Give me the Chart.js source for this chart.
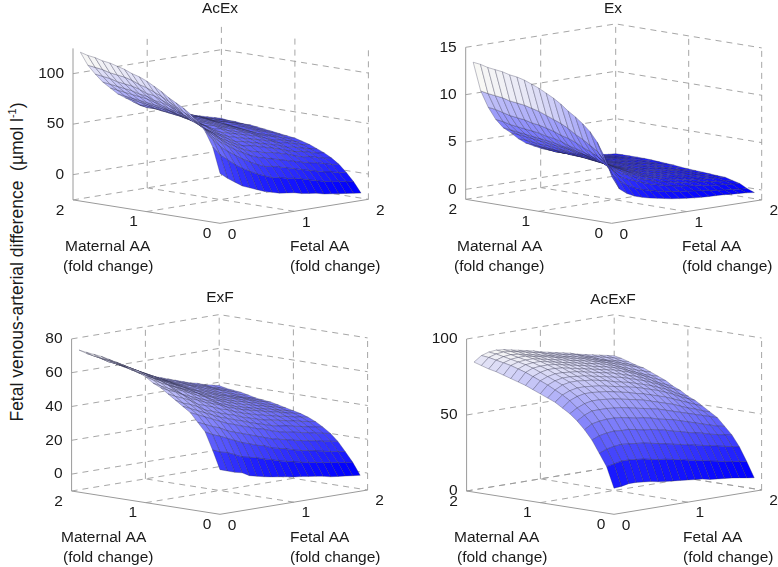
<!DOCTYPE html>
<html><head><meta charset="utf-8">
<style>
html,body{margin:0;padding:0;background:#fff;overflow:hidden}
body{width:778px;height:567px;position:relative;font-family:"Liberation Sans",Arial,sans-serif}
canvas{position:absolute}
#yl{position:absolute;left:17px;top:262px;transform:translate(-50%,-50%) rotate(-90deg);white-space:pre;font-size:17.5px;color:#1a1a1a}
#yl sup{font-size:11px;line-height:0}
</style>
<script src="https://cdn.jsdelivr.net/npm/chart.js@4/dist/chart.umd.min.js"></script>
</head><body>
<div id="yl">Fetal venous-arterial difference  (µmol l<sup>-1</sup>)</div>
<canvas id="c0"></canvas><canvas id="c1"></canvas><canvas id="c2"></canvas><canvas id="c3"></canvas>
<script>
const foldLevels=[0.1,0.2,0.3,0.4,0.5,0.6,0.7,0.8,0.9,1,1.1,1.2,1.3,1.4,1.5,1.6,1.7,1.8,1.9,2];
const axisTicks=[0,1,2];
const panelNames=["AcEx","Ex","ExF","AcExF"];
const zTicksAcEx=[0,50,100], zTicksEx=[0,5,10,15], zTicksExF=[0,20,40,60,80], zTicksAcExF=[0,50,100];
// rows: fetal AA, columns: maternal AA
const acExZ=[
[22,47,61,70,76,81,85,89,94,98,102,105,107,110,112,114,115,117,118,120],
[16,38,52,60,66,71,75,79,83,87,90,93,95,98,100,101,102,104,105,106],
[11,32,44,52,58,63,67,70,75,78,81,84,85,88,90,91,92,94,95,96],
[6,26,38,46,52,56,60,63,67,71,74,76,77,80,81,83,84,85,86,87],
[3,21,33,41,46,51,54,58,62,65,67,69,71,73,75,76,77,78,79,80],
[0,17,28,36,41,45,49,52,56,59,61,63,65,67,68,69,70,71,72,73],
[-3,13,24,32,37,41,45,48,52,54,57,58,60,62,63,64,65,66,67,68],
[-5,10,20,28,33,37,41,44,47,50,52,54,55,57,58,59,60,61,61,63],
[-7,7,17,25,30,34,37,41,44,46,48,50,51,53,54,55,56,57,57,58],
[-8,6,16,23,28,33,36,39,42,45,47,48,49,51,52,54,54,55,55,57],
[-9,4,14,21,26,31,34,37,40,42,44,46,47,48,50,51,51,52,53,54],
[-11,3,12,19,25,29,32,35,38,40,42,43,45,46,47,48,49,50,50,51],
[-12,1,10,17,23,27,30,33,36,38,40,41,42,44,45,46,46,47,48,49],
[-13,-1,8,15,21,25,28,31,34,36,37,39,40,41,42,43,44,45,45,46],
[-15,-3,6,13,18,22,26,29,31,33,35,36,37,38,39,40,41,42,42,43],
[-16,-5,4,11,16,20,23,26,28,31,32,33,34,35,36,38,38,39,39,40],
[-17,-6,2,10,15,19,22,25,27,29,30,32,33,34,35,36,36,37,37,38],
[-18,-7,1,8,13,17,20,23,25,27,28,30,31,32,33,34,34,35,35,36],
[-19,-9,-1,6,11,15,18,21,23,25,27,28,29,30,31,32,32,33,33,34],
[-20,-10,-2,5,10,14,17,20,22,24,25,26,27,28,29,30,30,31,31,32]];
const exZ=[
[3.6,5.6,7,8,8.7,9.3,9.8,10.4,10.9,11.3,11.7,12,12.3,12.5,12.6,12.8,12.9,13,13.2,13.3],
[2.2,3.6,4.9,5.8,6.3,6.8,7.2,7.7,8.1,8.4,8.7,9,9.2,9.4,9.5,9.6,9.8,9.9,10,10.15],
[1.6,2.8,3.8,4.5,5,5.4,5.7,6.1,6.4,6.6,6.9,7.1,7.3,7.4,7.6,7.7,7.8,8,8.2,8.3],
[1.2,2.2,3,3.6,4,4.4,4.7,5,5.2,5.4,5.7,5.9,6,6.2,6.3,6.4,6.5,6.6,6.8,6.9],
[.95,1.8,2.6,3.1,3.5,3.8,4,4.3,4.5,4.7,4.9,5,5.2,5.3,5.4,5.5,5.6,5.7,5.8,5.9],
[.75,1.5,2.3,2.8,3.1,3.4,3.6,3.8,4,4.2,4.3,4.5,4.6,4.7,4.8,4.9,5,5.1,5.2,5.25],
[.6,1.3,2,2.4,2.7,3,3.1,3.3,3.5,3.6,3.8,3.9,4,4.1,4.2,4.3,4.3,4.4,4.5,4.5],
[.45,1.1,1.7,2.1,2.4,2.6,2.8,2.9,3.1,3.2,3.3,3.4,3.5,3.6,3.7,3.7,3.8,3.8,3.9,3.9],
[.3,.95,1.5,1.9,2.1,2.3,2.4,2.6,2.7,2.8,2.9,3,3.1,3.2,3.2,3.3,3.4,3.4,3.5,3.5],
[.2,.8,1.3,1.6,1.9,2,2.2,2.3,2.4,2.5,2.6,2.7,2.8,2.9,2.9,3,3,3,3.1,3.1],
[.1,.7,1.15,1.45,1.7,1.8,1.9,2.05,2.15,2.25,2.35,2.45,2.55,2.6,2.65,2.7,2.75,2.75,2.8,2.8],
[.03,.6,1,1.3,1.5,1.65,1.75,1.85,1.95,2.05,2.15,2.25,2.3,2.35,2.4,2.45,2.5,2.5,2.5,2.5],
[-.03,.5,.9,1.15,1.35,1.5,1.6,1.7,1.8,1.85,1.95,2.05,2.1,2.15,2.2,2.2,2.25,2.25,2.25,2.25],
[-.07,.4,.8,1.05,1.25,1.35,1.45,1.55,1.65,1.7,1.8,1.85,1.9,1.95,2,2.05,2.05,2.05,2.05,2.05],
[-.1,.3,.7,.95,1.1,1.25,1.35,1.4,1.5,1.55,1.65,1.7,1.75,1.8,1.85,1.9,1.9,1.9,1.9,1.9],
[-.13,.2,.6,.85,1,1.1,1.2,1.3,1.35,1.45,1.5,1.55,1.6,1.65,1.7,1.75,1.75,1.75,1.75,1.75],
[-.2,.1,.5,.75,.9,1,1.1,1.15,1.25,1.3,1.35,1.45,1.5,1.5,1.55,1.6,1.6,1.6,1.6,1.6],
[-.25,.05,.45,.65,.85,.9,.95,1.05,1.1,1.15,1.2,1.3,1.35,1.4,1.4,1.45,1.45,1.45,1.45,1.45],
[-.3,-.05,.35,.55,.75,.8,.85,.9,1,1,1.1,1.2,1.2,1.25,1.3,1.35,1.35,1.35,1.35,1.35],
[-.4,-.1,.3,.5,.7,.75,.8,.85,.9,.95,1,1.1,1.15,1.2,1.25,1.3,1.3,1.3,1.3,1.3]];
const exFZ=[
[15,26,36,41,46,49,52,55,58,60,63,65,66,68,69,70,71,71.5,72,72.7],
[13.5,24,33.6,39,44,47,49.5,52.8,55.7,57.6,60.4,62.4,63.4,65.2,66.2,67.2,68.2,68.7,69.2,70],
[12,23,32,37,42,45,48,51,54,55.5,58,60,61,63,64,65,66,66.5,67,68],
[11,21,30,35.5,40,43,46,49,51.6,53.4,56,57.7,58.7,60.4,61.3,62.3,63.3,63.8,64.3,65.5],
[8.6,19,28,33,38,41,43.3,46,48.7,50.4,52.8,54.4,56,57.8,58.8,60,61,61.8,62.5,63.4],
[7.5,18,26,31.5,36,39,41.8,44.5,47,48.6,51,52.5,53.5,55,56,57,58,59,60,61],
[6.5,17,24.6,30,34.6,37.6,40,43,45,46.8,49,50.5,51.5,53,54,55,56,57,58,59],
[5.7,15.5,23,28.5,33,36,38.6,41,43.5,45,47,48.5,49.5,51,52,53,54,55,56,57],
[5,14.5,22,27,31.7,34.7,37.3,39.9,42,43.5,45.4,46.9,47.9,49,50,51,52,53,53.8,54.5],
[4.3,13,20,25.5,30,33,35.5,38,40,41.4,43,44.5,45.5,47,47.8,48.8,49.8,50.5,51.2,52],
[3.5,12,19,24,29,31.6,34.2,36.5,38.6,40,41.6,43,44,45.2,46,47,47.8,48.6,49.3,50],
[3,11,18,23,27.3,30.3,32.9,35.2,37.1,38.4,40,41.2,42.2,43.4,44.3,45.3,46.2,47,47.8,48.5],
[2.3,10,16.6,22,26,29,31.6,34,36,37.2,38.7,39.9,40.9,42,43,44,45,45.7,46.4,47],
[1.7,9.2,15.6,21,25,28,30.8,33,35,36,37.4,38.6,39.6,40.5,41.4,42.4,43.4,44,44.8,45.5],
[1,8.5,14.8,20,24.4,27.4,30,32,33.9,35,36.4,37.6,38.6,39.4,40,41,42,42.7,43.4,44],
[0,7.7,13.9,19.2,23.4,26.4,29,30.9,32.8,33.9,35.2,36.3,37.3,38,38.6,39.6,40.6,41.5,42,42.5],
[-.5,7,13,18.5,22.6,25.6,28.2,30.2,32,33,34.2,35.3,36.3,37,37.5,38.5,39.5,40,40.8,41.5],
[-1,6.3,12.1,17.5,21.6,24.6,27.2,29.2,30.8,31.8,33,34,35,35.6,36.1,37.1,38.1,38.6,39.1,40],
[-1.5,5.6,11.4,16.8,20.8,23.8,26.4,28.3,29.9,30.9,32,33,34,34.6,35,36,37,37.5,38,39],
[-2,5,10.6,16,20,23,25.6,27.5,29,30,31,32,33,33.5,34,35,36,36.5,37,38]];
const acExFZ=[
[15.6,29,37,45,51,56,60,63,66,68,70,72,74,75.5,77,78.5,80,81,82.5,84],
[16,30,39,47,54,59,63,67,70,72.5,75,77,79,81,82.5,84,85,86,87,87.5],
[17,31,40,48,55,61,65,69,72,75,77,79,81,83,84.5,85.5,86.5,87.5,88.5,89],
[17,31,40.5,48.5,55.5,61,66,70,73,76,78,80,82,83.5,85,86,87,88,89,89.5],
[16.5,30.5,40,48,55.5,61,66,70,73,76,78,80,82,83.5,85,86,87,87.5,88.5,89],
[16,30,39.5,48,55,60.5,65.5,69.5,72.5,75.5,77.5,79.5,81.5,83,84,85,86,86.5,87.5,88],
[15,29,39,47,54,60,65,69,72,75,77,79,80.5,82,83,84,85,85.5,86.5,87],
[14.5,28,38,46,53,59,64,68,71,74,76,78,79.5,81,82,83,84,84.5,85.5,86],
[14,27.5,37,45.5,52.5,58,63,67,70,73,75,77,78.5,80,81,82,83,83.5,84.5,85],
[13.5,26.5,36,44.5,51.5,57,62,66,69,71.5,74,76,77.5,79,80,81,81.8,82.3,83,83.6],
[13,25.5,35,43.5,50,56,61,64.5,68,70.5,73,75,76.5,77.8,79,80,80.8,81.3,82,82.5],
[12.5,24.5,34,42,49,55,59.5,63.5,67,69.5,72,74,75.5,76.8,78,79,79.8,80.3,81,81.5],
[12,23.5,33,41,48,53.5,58,62,65.5,68,70.5,72.5,74.5,75.8,77,78,78.8,79.3,80,80.5],
[11,22.5,32,39.5,46.5,52,56.5,60.5,64,66.5,69,71,73,74.5,75.8,76.8,77.6,78.2,79,79.5],
[10.5,21.5,31,38.5,45,50.5,55,59,62.5,65,67.5,69.5,71.5,73,74.3,75.5,76.2,77,77.5,78],
[10,20.5,30,37.5,43.5,49,53,57,60.5,63,65.5,67.5,69.5,71,72.5,74,75,75.5,76.3,77],
[9.5,19.5,29,36,42,47.5,51,55,58.5,61,63.5,65.5,67.5,69,70.8,72.5,73.5,74,75.3,76],
[8.8,18.5,28,35,40.5,46,49.5,53,56,58.5,61,63,65.5,67,69,71,72,73,74.2,75],
[8,18,27,34,39,44.5,47.5,51,54,56,59,61,63.5,65.5,67.5,69.5,70.5,71.8,73,74],
[7.3,17,26,33,38,43,46,49,52,54,57,59,62,64,66,68,69,70.5,72,73]];

// layout and 3D view of each panel (page pixels)
const panels=[
 {z:acExZ,zt:zTicksAcEx,left:0,top:0,w:440,h:283,padL:0,titleP:0,o:[220,223.3],fv:[74.2,-12],mv:[-73.5,-11.7],zb:-25,zTop:125,k:1.01,
  lab:[[65,247,"Maternal AA"],[63,267,"(fold change)"],[290,247,"Fetal AA"],[290,267,"(fold change)"]]},
 {z:exZ,zt:zTicksEx,left:430,top:0,w:348,h:283,padL:18,titleP:0,o:[611.7,223.3],fv:[75,-11.7],mv:[-73,-12],zb:-1.05,zTop:15,k:9.47,
  lab:[[457,247,"Maternal AA"],[454,267,"(fold change)"],[682,247,"Fetal AA"],[682,267,"(fold change)"]]},
 {z:exFZ,zt:zTicksExF,left:0,top:283,w:440,h:284,padL:0,titleP:6,o:[220,514.3],fv:[73.8,-12.15],mv:[-74.2,-11.65],zb:-10,zTop:80,k:1.69,
  lab:[[61,538,"Maternal AA"],[63,558,"(fold change)"],[290,538,"Fetal AA"],[290,558,"(fold change)"]]},
 {z:acExFZ,zt:zTicksAcExF,left:430,top:283,w:348,h:284,padL:18,titleP:8,o:[614,514.3],fv:[73.8,-12.15],mv:[-73.7,-11.65],zb:0,zTop:100,k:1.52,
  lab:[[454,538,"Maternal AA"],[457,558,"(fold change)"],[683,538,"Fetal AA"],[683,558,"(fold change)"]]}
];
const FONT=15.5, TITLE_LH=18;
const textPlugin={id:'texts3d',afterDraw(chart){
  const p=chart.options.plugins.texts3d.panel, ctx=chart.ctx, sx=chart.scales.x, sy=chart.scales.y;
  const put=(x,y,t,al)=>{ctx.textAlign=al;ctx.fillText(t,sx.getPixelForValue(x),sy.getPixelForValue(y));};
  ctx.save();ctx.font=FONT+'px "Liberation Sans", Arial, sans-serif';ctx.fillStyle='#1a1a1a';ctx.textBaseline='middle';
  const P=project(p);
  p.zt.forEach(z=>{const q=P(0,2,z);put(q.x-9,q.y,String(z),'right');});
  axisTicks.forEach(v=>{let q=P(0,v,p.zb);put(q.x-13,q.y+10.5,String(v),'center');q=P(v,0,p.zb);put(q.x+12,q.y+11,String(v),'center');});
  p.lab.forEach(l=>put(l[0]-p.left,l[1]-p.top,l[2],'left'));
  ctx.restore();
}};
function project(p){return (f,m,z)=>({x:p.o[0]+f*p.fv[0]+m*p.mv[0]-p.left,y:p.o[1]+f*p.fv[1]+m*p.mv[1]-(z-p.zb)*p.k-p.top});}
function line(pts,color,width,dash){return {data:pts,showLine:true,fill:false,pointRadius:0,borderColor:color,borderWidth:width,borderDash:dash||[],tension:0};}
panels.forEach((p,n)=>{
  const P=project(p), cv=document.getElementById('c'+n);
  cv.width=p.w;cv.height=p.h;cv.style.left=p.left+'px';cv.style.top=p.top+'px';
  const all=p.z.flat(), zmin=Math.min(...all), zmax=Math.max(...all), ds=[], N=foldLevels.length;
  // front cells first: Chart.js paints the first dataset last
  for(let s=0;s<=2*(N-2);s++)for(let i=0;i<N-1;i++){const j=s-i;if(j<0||j>N-2)continue;
    const t=(p.z[i][j]-zmin)/(zmax-zmin), c=Math.round(250*t);
    const pts=[[i,j],[i+1,j],[i+1,j+1],[i,j+1],[i,j]].map(a=>P(foldLevels[a[0]],foldLevels[a[1]],p.z[a[0]][a[1]]));
    ds.push({data:pts,showLine:true,fill:'shape',pointRadius:0,tension:0,backgroundColor:`rgb(${c},${c},${Math.max(245,255-Math.round(10*t))})`,borderColor:'rgba(40,40,70,0.5)',borderWidth:0.6});
  }
  const solid='#9a9a9a', dash='#9c9c9c', D=[6,5];
  ds.push(line([P(0,2,p.zb),P(0,0,p.zb),P(2,0,p.zb)],solid,1));
  ds.push(line([P(0,2,p.zb),P(0,2,p.zTop)],solid,1));
  p.zt.forEach(z=>ds.push(line([P(0,2,z),P(2,2,z),P(2,0,z)],dash,0.9,D)));
  [[1,2],[2,2],[2,1],[2,0]].forEach(a=>ds.push(line([P(a[0],a[1],p.zb),P(a[0],a[1],p.zTop)],dash,0.9,D)));
  ds.push(line([P(0,2,p.zb),P(2,2,p.zb),P(2,0,p.zb)],dash,0.9,D));
  ds.push(line([P(1,0,p.zb),P(1,2,p.zb)],dash,0.9,D));
  ds.push(line([P(0,1,p.zb),P(2,1,p.zb)],dash,0.9,D));
  new Chart(cv,{type:'scatter',data:{datasets:ds},plugins:[textPlugin],options:{
    responsive:false,animation:false,events:[],
    layout:{padding:{left:p.padL,right:0,top:0,bottom:0}},
    scales:{x:{type:'linear',display:false,min:p.padL,max:p.w},y:{type:'linear',display:false,reverse:true,min:p.titleP+TITLE_LH,max:p.h}},
    plugins:{legend:{display:false},tooltip:{enabled:false},
      title:{display:true,text:panelNames[n],fullSize:false,color:'#1a1a1a',font:{family:'"Liberation Sans", Arial, sans-serif',size:FONT,weight:'normal',lineHeight:TITLE_LH/FONT},padding:{top:p.titleP,bottom:0}},
      texts3d:{panel:p}}
  }});
});
</script>
</body></html>
